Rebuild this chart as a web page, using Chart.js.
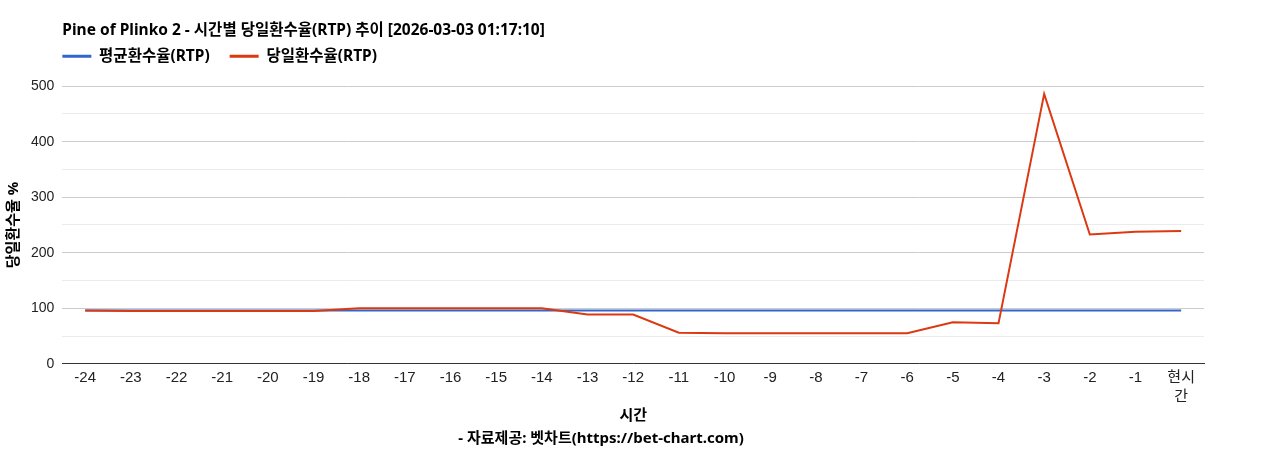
<!DOCTYPE html>
<html>
<head>
<meta charset="utf-8">
<script src="https://cdn.jsdelivr.net/npm/chart.js@4.4.1/dist/chart.umd.min.js"></script>
<style>
html,body{margin:0;padding:0;background:#fff;}
#wrap{width:1268px;height:450px;}
</style>
</head>
<body>
<div id="wrap"><canvas id="c" width="1268" height="450"></canvas></div>
<script>
const categories = ['-24','-23','-22','-21','-20','-19','-18','-17','-16','-15','-14','-13','-12','-11','-10','-9','-8','-7','-6','-5','-4','-3','-2','-1',['현시','간']];
const avgRtp = [96,96,96,96,96,96,96,96,96,96,96,96,96,96,96,96,96,96,96,96,96,96,96,96,96];
const dailyRtp = [96,95,95,95,95,95,100,100,100,100,100,89,89,56,55,55,55,55,55,75,73,486,233,238,239];
const yTicks = [0,100,200,300,400,500];
const titleText = 'Pine of Plinko 2 - 시간별 당일환수율(RTP) 추이 [2026-03-03 01:17:10]';
const seriesNames = ['평균환수율(RTP)','당일환수율(RTP)'];
const xTitle = '시간';
const yTitle = '당일환수율 %';
const footer = '- 자료제공: 벳차트(https://bet-chart.com)';

const KR = "'Noto Sans', 'Noto Sans CJK KR', sans-serif";
const NUM = "'Liberation Sans', Arial, 'Noto Sans CJK KR', sans-serif";

const LEGEND_PAD = 20;

const alignBlocks = {
  id: 'alignBlocks',
  beforeLayout(chart) {
    const lg = chart.legend;
    if (lg && !lg._extraFit) {
      const f = lg.fit;
      lg.fit = function () { f.call(this); this.height += 1; };
      lg._extraFit = true;
    }
  },
  afterLayout(chart) {
    const left = chart.chartArea.left;
    if (chart.titleBlock) chart.titleBlock.left = left;
    if (chart.legend) {
      chart.legend.left = left - LEGEND_PAD;
      chart.legend.top -= 11;
    }
  }
};

const baseGen = Chart.defaults.plugins.legend.labels.generateLabels;

new Chart(document.getElementById('c'), {
  type: 'line',
  data: {
    labels: categories,
    datasets: [
      { label: seriesNames[0], data: avgRtp, borderColor: '#3366cc', backgroundColor: '#3366cc', borderWidth: 2, pointRadius: 0, tension: 0, order: 1 },
      { label: seriesNames[1], data: dailyRtp, borderColor: '#dc3912', backgroundColor: '#dc3912', borderWidth: 2, pointRadius: 0, tension: 0, order: 0 }
    ]
  },
  plugins: [alignBlocks],
  options: {
    responsive: false,
    animation: false,
    devicePixelRatio: 1,
    layout: { padding: { left: -2, right: 64, top: 11, bottom: 2 } },
    plugins: {
      title: { display: true, text: titleText, align: 'start', color: '#000', font: { family: KR, size: 15.5, weight: 'bold' }, padding: { top: 10, bottom: 0 } },
      subtitle: { display: true, position: 'bottom', text: footer, color: '#000', font: { family: KR, size: 15, weight: 'bold' }, padding: { top: 5, bottom: 0 } },
      legend: {
        display: true, position: 'top', align: 'start',
        labels: {
          boxWidth: 29, boxHeight: 3, padding: LEGEND_PAD, color: '#000',
          font: { family: KR, size: 15.5, weight: 'bold' },
          sort: (a, b) => a.datasetIndex - b.datasetIndex,
          generateLabels: (chart) => baseGen(chart).map(it => Object.assign(it, { lineWidth: 0 }))
        }
      },
      tooltip: { enabled: false }
    },
    scales: {
      x: {
        offset: true,
        grid: { display: false, drawTicks: false },
        border: { display: true, color: '#333', width: 1 },
        ticks: { color: '#222', font: { family: NUM, size: 15, lineHeight: 1.27 }, padding: 4, maxRotation: 0, autoSkip: false },
        title: { display: true, text: xTitle, color: '#000', font: { family: KR, size: 15, weight: 'bold' }, padding: { top: -3, bottom: 0 } }
      },
      y: {
        min: 0, max: 500,
        grid: { drawTicks: false, color: (ctx) => (ctx.tick && ctx.tick.value % 100 === 0) ? '#cccccc' : '#ebebeb' },
        border: { display: false },
        ticks: {
          stepSize: 50, padding: 8, color: '#222', autoSkip: false,
          font: { family: NUM, size: 14 },
          callback: (v) => yTicks.includes(v) ? String(v) : ''
        },
        title: { display: true, text: yTitle, color: '#000', font: { family: KR, size: 15, weight: 'bold' }, padding: { top: 7, bottom: 0 } }
      }
    }
  }
});
</script>
</body>
</html>
